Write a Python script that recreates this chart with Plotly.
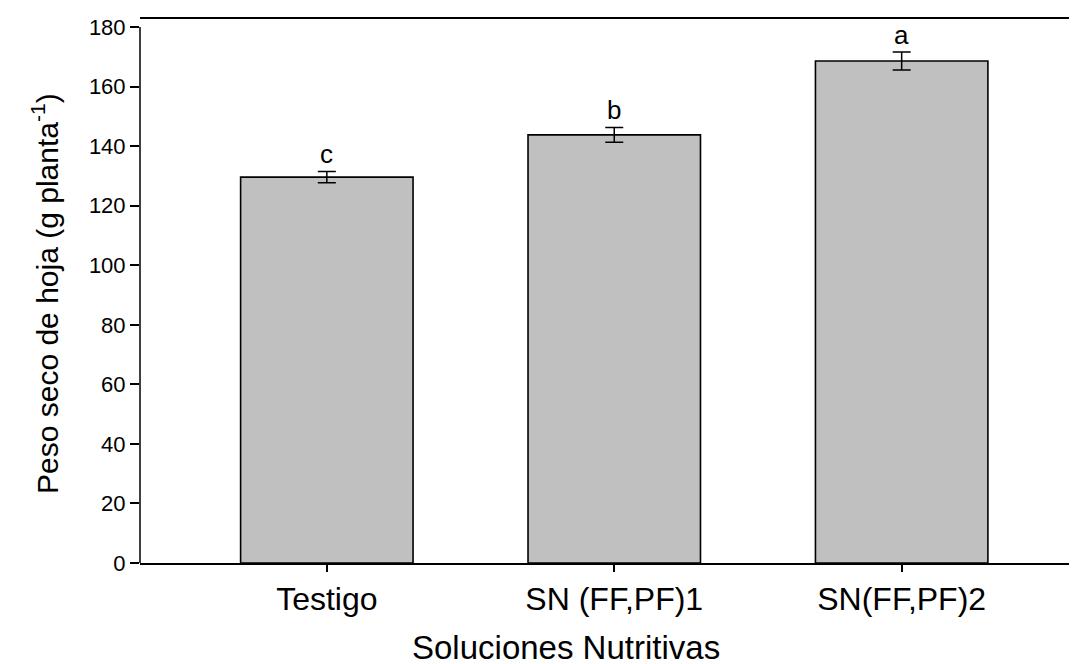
import plotly.graph_objects as go

categories = ["Testigo", "SN (FF,PF)1", "SN(FF,PF)2"]
values = [129.6, 143.8, 168.6]
errors = [1.9, 2.5, 3.0]
letters = ["c", "b", "a"]
y_ticks = [0, 20, 40, 60, 80, 100, 120, 140, 160, 180]

FONT = "Liberation Sans, Arial, sans-serif"

# page body has an 8px margin; compensate so the plot lands where the reference has it
L, T, B, R = 132, 7, 109, 8
PW = 1077 - L - R
PH = 664 - T - B

def px_x(p):  # screen pixel -> paper x
    return (p - 8 - L) / PW

def px_y(p):  # screen pixel -> paper y
    return (664 - B - (p - 8)) / PH

fig = go.Figure()
fig.add_trace(go.Bar(
    x=categories, y=values,
    marker=dict(color="#c0c0c0", line=dict(color="black", width=1.6)),
    error_y=dict(type="data", array=errors, visible=True, color="black",
                 thickness=1.5, width=9),
    width=0.6,
    showlegend=False,
))

for c, v, e, l in zip(categories, values, errors, letters):
    fig.add_annotation(x=c, y=v + e, text=l, showarrow=False, yanchor="bottom",
                       yshift=0, font=dict(family=FONT, size=26, color="black"))

fig.add_shape(type="line", xref="paper", yref="y", x0=0, x1=0, y0=0, y1=180,
              line=dict(color="black", width=1.5))

fig.add_annotation(xref="paper", yref="paper", x=px_x(566), y=px_y(648),
                   text="Soluciones Nutritivas", showarrow=False,
                   xanchor="center", yanchor="middle",
                   font=dict(family=FONT, size=33, color="black"))
fig.add_annotation(xref="paper", yref="paper", x=px_x(45), y=px_y(292),
                   text="Peso seco de hoja (g planta<sup>-1</sup>)", showarrow=False,
                   textangle=-90, xanchor="center", yanchor="middle",
                   font=dict(family=FONT, size=30, color="black"))

fig.update_layout(
    width=1077, height=664,
    margin=dict(l=L, r=R, t=T, b=B),
    plot_bgcolor="white", paper_bgcolor="white",
    font=dict(family=FONT, color="black"),
    xaxis=dict(
        range=[-0.65, 2.61], showline=True, mirror=True, linecolor="black",
        linewidth=1.5, ticks="outside", ticklen=7, tickwidth=1.5,
        tickcolor="black", showgrid=False, zeroline=False,
        tickfont=dict(family=FONT, size=32, color="black"),
    ),
    yaxis=dict(
        range=[0, 182.7], tickvals=y_ticks, showline=False, ticks="outside",
        ticklen=9, tickwidth=1.5, tickcolor="black", showgrid=False,
        zeroline=False, tickfont=dict(family=FONT, size=22, color="black"),
    ),
)

fig.write_html("out.html")
